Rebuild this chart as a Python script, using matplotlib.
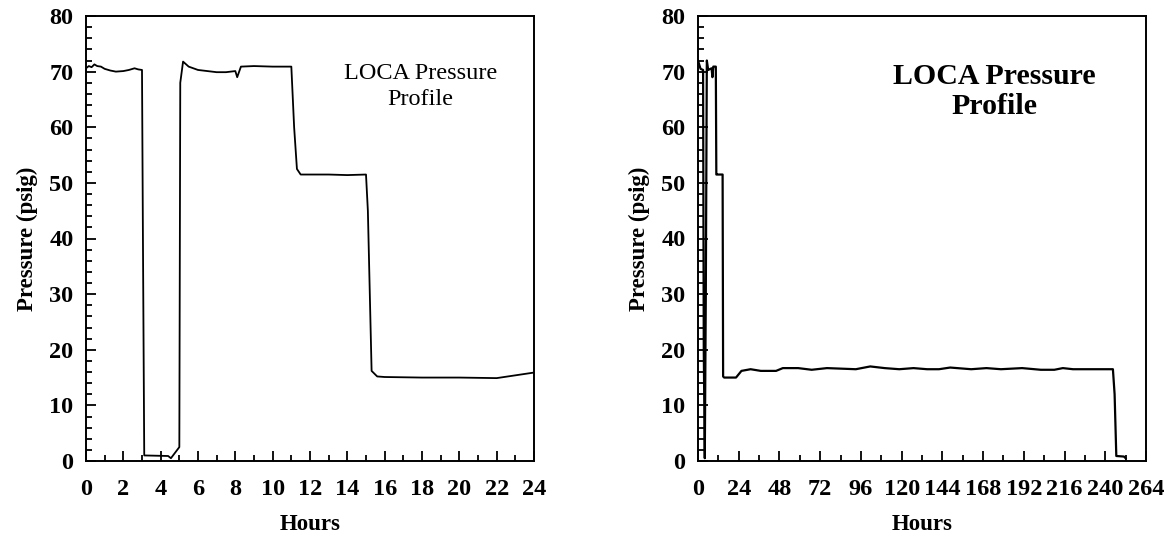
import numpy as np
import matplotlib
matplotlib.use("Agg")
import matplotlib.pyplot as plt
from matplotlib.ticker import MultipleLocator

# first day, hours vs pressure (psig)
hours_24 = [0, 0.15, 0.3, 0.45, 0.6, 0.8, 1.0, 1.3, 1.6, 2.0, 2.3, 2.6, 2.8, 3.0,
            3.05, 3.12, 4.4, 4.55, 5.0, 5.05, 5.2, 5.5, 6.0, 7.0, 7.5, 8.0,
            8.1, 8.3, 9.0, 10.0, 11.0, 11.15, 11.3, 11.5, 13.0, 14.0, 15.0,
            15.1, 15.3, 15.6, 16.0, 18.0, 20.0, 22.0, 23.0, 24.0]
psig_24 = [70.6, 71.0, 70.8, 71.3, 71.0, 70.9, 70.5, 70.2, 70.0, 70.1, 70.3, 70.6, 70.4, 70.3,
           40.0, 1.0, 0.9, 0.5, 2.5, 68.0, 71.8, 70.9, 70.3, 69.9, 69.9, 70.1,
           69.0, 70.9, 71.0, 70.9, 70.9, 60.0, 52.5, 51.5, 51.5, 51.4, 51.5,
           45.0, 16.2, 15.2, 15.1, 15.0, 15.0, 14.9, 15.4, 15.9]

# full test, 0 - 264 hours
hours_264 = [0, 1.5, 3.0, 3.4, 4.0, 4.6, 5.2, 6.0, 8.0, 8.5, 9.0, 10.5, 10.8, 11.5,
             14.5, 14.8, 15.4, 22.4, 25.6, 31, 37, 46, 50, 59, 67, 76, 93, 101.5,
             110, 118.6, 127, 135, 142, 148.6, 161, 170, 178.5, 191, 202, 210,
             215, 221, 244.5, 245.5, 246.5, 251, 252]
psig_264 = [72.0, 70.5, 70.3, 20.0, 0.5, 30.0, 72.0, 70.3, 70.6, 69.0, 70.9, 70.9, 51.5, 51.5,
            51.5, 15.2, 15.0, 15.0, 16.2, 16.5, 16.2, 16.2, 16.7, 16.7, 16.4, 16.7, 16.5, 17.0,
            16.7, 16.5, 16.7, 16.5, 16.5, 16.8, 16.5, 16.7, 16.5, 16.7, 16.4, 16.4,
            16.7, 16.5, 16.5, 12.0, 0.9, 0.8, 0.5]

x_max = [24, 264]
x_step = [2, 24]
x_minor = [1, 12]

plt.rcParams['font.family'] = ['Liberation Serif', 'DejaVu Serif']

fig = plt.figure(figsize=(11.68, 5.35), dpi=100)
ax1 = fig.add_axes([86 / 1168, 74 / 535, 448 / 1168, 445 / 535])
ax2 = fig.add_axes([698 / 1168, 74 / 535, 448 / 1168, 445 / 535])

series = [(hours_24, psig_24), (hours_264, psig_264)]
for i, ax in enumerate([ax1, ax2]):
    xs, ys = series[i]
    ax.plot(xs, ys, color='black', lw=1.3 if i == 0 else 1.6)
    ax.set_xlim(0, x_max[i])
    ax.set_ylim(0, 80)
    ax.xaxis.set_major_locator(MultipleLocator(x_step[i]))
    ax.xaxis.set_minor_locator(MultipleLocator(x_minor[i]))
    ax.yaxis.set_major_locator(MultipleLocator(10))
    ax.yaxis.set_minor_locator(MultipleLocator(2))
    ax.tick_params(which='both', direction='in', width=1.3, labelsize=17.5, top=False, right=False)
    ax.tick_params(which='major', length=7)
    ax.tick_params(which='minor', length=4)
    ax.tick_params(axis='x', pad=13)
    ax.tick_params(axis='y', pad=9)
    for lab in ax.get_xticklabels() + ax.get_yticklabels():
        lab.set_fontweight('bold')
    for sp in ax.spines.values():
        sp.set_linewidth(1.4)
    ax.set_xlabel('Hours', fontsize=16.5, fontweight='bold', labelpad=10)
    ax.set_ylabel('Pressure (psig)', fontsize=16.5, fontweight='bold', labelpad=8)

ax1.text(0.746, 0.895, 'LOCA Pressure\nProfile', transform=ax1.transAxes,
         ha='center', va='top', fontsize=17.5, linespacing=1.3)
ax2.text(0.661, 0.895, 'LOCA Pressure\nProfile', transform=ax2.transAxes,
         ha='center', va='top', fontsize=21.5, fontweight='bold', linespacing=1.15)

fig.savefig('out.png', dpi=100)
